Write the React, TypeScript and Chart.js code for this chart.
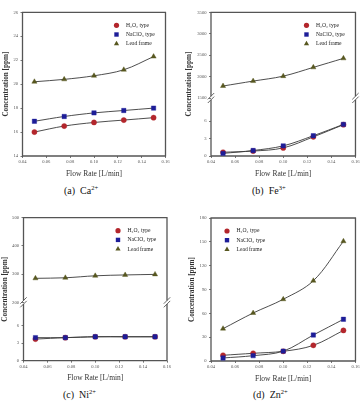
import React, { useEffect, useRef } from 'react';
import { Chart, registerables } from 'chart.js';

Chart.register(...registerables);

const FONT = "'Liberation Serif', 'Times New Roman', serif";

// ---- data ----
const flowRates = [0.05, 0.075, 0.1, 0.125, 0.15];
const seriesLabels = ['H₂O₂ type', 'NaClO₃ type', 'Lead frame'];
const xTickValues = [0.04, 0.06, 0.08, 0.1, 0.12, 0.14, 0.16];

const caH2O2 = [16.0, 16.5, 16.8, 17.0, 17.2];
const caNaClO3 = [16.9, 17.3, 17.6, 17.8, 18.0];
const caLead = [20.2, 20.4, 20.7, 21.2, 22.3];
const caTicks = [14, 16, 18, 20, 22, 24, 26];

const feH2O2 = [0.65, 0.85, 1.4, 3.3, 5.4];
const feNaClO3 = [0.45, 0.95, 1.75, 3.5, 5.45];
const feLead = [1780, 1895, 2010, 2215, 2425];
const feHighTicks = [1500, 2000, 2500, 3000, 3500];
const feLowTicks = [0, 3, 6];

const niH2O2 = [3.7, 3.95, 4.1, 4.1, 4.1];
const niNaClO3 = [3.95, 3.95, 4.1, 4.1, 4.1];
const niLead = [285, 287, 294, 297, 299];
const niHighTicks = [200, 300, 400, 500];
const niLowTicks = [0, 3, 6];

const znH2O2 = [7.2, 9.7, 12.2, 19.7, 38.5];
const znNaClO3 = [3.8, 6.7, 12.4, 32.7, 52.5];
const znLead = [40.7, 60.4, 77.7, 101, 150.7];
const znTicks = [0, 30, 60, 90, 120, 150, 180];

const lowAxisMax = 10;

// ---- styles ----
const markerStyles = [
  { shape: 'circle', color: '#b3262c', r: 2.6 },
  { shape: 'rect', color: '#1d1d98', r: 3.1 },
  { shape: 'triangle', color: '#57571f', r: 3.0 },
];

function drawMarker(ctx: CanvasRenderingContext2D, st: any, x: number, y: number) {
  ctx.save();
  ctx.fillStyle = st.color;
  ctx.beginPath();
  if (st.shape === 'circle') {
    ctx.arc(x, y, st.r, 0, Math.PI * 2);
  } else if (st.shape === 'rect') {
    const s = st.r * Math.SQRT1_2;
    ctx.rect(x - s, y - s, 2 * s, 2 * s);
  } else {
    let rad = 0;
    const step = (2 * Math.PI) / 3;
    ctx.moveTo(x + Math.sin(rad) * st.r, y - Math.cos(rad) * st.r);
    rad += step;
    ctx.lineTo(x + Math.sin(rad) * st.r, y - Math.cos(rad) * st.r);
    rad += step;
    ctx.lineTo(x + Math.sin(rad) * st.r, y - Math.cos(rad) * st.r);
    ctx.closePath();
  }
  ctx.fill();
  ctx.restore();
}

type Broken = { high: number[]; low: number[]; highW: number; lowW: number };
type PanelProps = {
  x: number; y: number; w: number; h: number;
  area: { l: number; t: number; r: number; b: number };
  yTitleX: number;
  legendSide: 'left' | 'right';
  series: number[][];
  ticks?: number[];
  broken?: Broken;
};

function Panel(p: PanelProps) {
  const ref = useRef<HTMLCanvasElement>(null);
  useEffect(() => {
    const canvas = ref.current!;
    const { area, w, h } = p;

    const datasets = p.series.map((vals, i) => ({
      label: seriesLabels[i],
      data: vals.map((v, j) => ({ x: flowRates[j], y: v })),
      yAxisID: p.broken ? (i === 2 ? 'yHigh' : 'yLow') : 'y',
      borderColor: '#3a3a3a',
      borderWidth: 0.9,
      tension: 0.35,
      fill: false,
      pointStyle: markerStyles[i].shape,
      pointRadius: markerStyles[i].r,
      pointBackgroundColor: markerStyles[i].color,
      pointBorderColor: markerStyles[i].color,
      pointBorderWidth: 0.4,
      order: 3 - i,
    }));

    const yBase = (ticks: number[]) => ({
      type: 'linear',
      position: 'left',
      min: ticks[0],
      max: ticks[ticks.length - 1],
      afterBuildTicks: (s: any) => { s.ticks = ticks.map((v) => ({ value: v })); },
      afterFit: (s: any) => { s.width = area.l; },
      ticks: {
        font: { family: FONT, size: 4.6 },
        color: '#555',
        padding: 2.5,
        callback: (v: any) => String(v),
      },
      grid: { display: true, drawOnChartArea: false, drawTicks: true, tickLength: 2, tickColor: '#555', tickWidth: 0.8 },
      border: { display: false },
    });

    const titleCenterBelow = 17.6;
    const scales: any = {
      x: {
        type: 'linear',
        min: xTickValues[0],
        max: xTickValues[xTickValues.length - 1],
        afterBuildTicks: (s: any) => { s.ticks = xTickValues.map((v) => ({ value: v })); },
        afterFit: (s: any) => { s.height = h - area.b; },
        ticks: {
          font: { family: FONT, size: 4.6 },
          color: '#555',
          padding: 1.5,
          maxRotation: 0,
          autoSkip: false,
          callback: (v: any) => Number(v).toFixed(2),
        },
        grid: { display: true, drawOnChartArea: false, drawTicks: true, tickLength: 2, tickColor: '#555', tickWidth: 0.8 },
        border: { display: false },
        title: {
          display: true,
          text: 'Flow Rate [L/min]',
          font: { family: FONT, size: 7.5 },
          color: '#333',
          padding: { top: 0, bottom: Math.max(0, h - (area.b + titleCenterBelow) - 4.5) },
        },
      },
    };
    if (p.broken) {
      const b = p.broken;
      scales.yLow = { ...yBase(b.low), min: 0, max: lowAxisMax, stack: 'y', stackWeight: b.lowW };
      scales.yHigh = { ...yBase(b.high), stack: 'y', stackWeight: b.highW };
    } else {
      scales.y = yBase(p.ticks!);
    }

    const framePlugin = {
      id: 'frame',
      beforeDatasetsDraw(chart: any) {
        const { ctx, chartArea: a } = chart;
        ctx.save();
        ctx.strokeStyle = '#555';
        ctx.lineWidth = 1.3;
        ctx.beginPath();
        ctx.moveTo(a.left - 0.6, a.top); ctx.lineTo(a.right + 0.6, a.top);
        ctx.moveTo(a.left - 0.6, a.bottom); ctx.lineTo(a.right + 0.6, a.bottom);
        if (p.broken) {
          const bY = chart.scales.yHigh.bottom;
          const g = 1.8;
          for (const xx of [a.left, a.right]) {
            ctx.moveTo(xx, a.top); ctx.lineTo(xx, bY - g);
            ctx.moveTo(xx, bY + g); ctx.lineTo(xx, a.bottom);
          }
          ctx.stroke();
          ctx.beginPath();
          ctx.lineWidth = 0.9;
          for (const xx of [a.left, a.right]) {
            for (const d of [-g, g]) {
              ctx.moveTo(xx - 3.2, bY + d + 3.2);
              ctx.lineTo(xx + 3.2, bY + d - 3.2);
            }
          }
          ctx.stroke();
        } else {
          ctx.moveTo(a.left, a.top); ctx.lineTo(a.left, a.bottom);
          ctx.moveTo(a.right, a.top); ctx.lineTo(a.right, a.bottom);
          ctx.stroke();
        }
        ctx.restore();
      },
      afterDraw(chart: any) {
        const { ctx, chartArea: a } = chart;
        // y title
        ctx.save();
        ctx.translate(p.yTitleX, (a.top + a.bottom) / 2);
        ctx.rotate(-Math.PI / 2);
        ctx.font = `bold 7.2px ${FONT}`;
        ctx.fillStyle = '#333';
        ctx.textAlign = 'center';
        ctx.textBaseline = 'middle';
        ctx.fillText('Concentration [ppm]', 0, 0);
        ctx.restore();
        // legend
        const mx = p.legendSide === 'right' ? a.right - 49 : a.left + 16;
        p.series.forEach((_, i) => {
          const yy = a.top + 13 + i * 9.2;
          drawMarker(ctx, markerStyles[i], mx, yy);
          ctx.save();
          ctx.font = `5.6px ${FONT}`;
          ctx.fillStyle = '#222';
          ctx.textAlign = 'left';
          ctx.textBaseline = 'middle';
          ctx.fillText(seriesLabels[i], mx + 9.5, yy);
          ctx.restore();
        });
      },
    };

    const chart = new Chart(canvas, {
      type: 'line',
      data: { datasets },
      options: {
        responsive: false,
        animation: false,
        devicePixelRatio: 1,
        events: [],
        layout: { padding: { left: 0, top: area.t, right: w - area.r, bottom: 0 } },
        plugins: { legend: { display: false }, tooltip: { enabled: false }, title: { display: false } },
        scales,
      } as any,
      plugins: [framePlugin],
    } as any);
    return () => chart.destroy();
  }, []);
  return (
    <canvas
      ref={ref}
      width={p.w}
      height={p.h}
      style={{ position: 'absolute', left: p.x, top: p.y, width: p.w, height: p.h }}
    />
  );
}

function Caption({ x, y, letter, ion, charge }: { x: number; y: number; letter: string; ion: string; charge: string }) {
  return (
    <div style={{ position: 'absolute', left: x, top: y, font: `10px ${FONT}`, lineHeight: '10px', color: '#111', whiteSpace: 'pre' }}>
      {`(${letter})  ${ion}`}
      <span style={{ fontSize: '6.5px', position: 'relative', top: '-4.5px' }}>{charge}</span>
    </div>
  );
}

export default function App() {
  return (
    <div style={{ position: 'fixed', left: 0, top: 0, width: 361, height: 402, background: '#fff', overflow: 'hidden' }}>
      <Panel x={0} y={0} w={180} h={184} area={{ l: 22.5, t: 12.3, r: 165.5, b: 156 }} yTitleX={6.5}
        legendSide="right" series={[caH2O2, caNaClO3, caLead]} ticks={caTicks} />
      <Panel x={180} y={0} w={181} h={184} area={{ l: 31, t: 12.3, r: 175.5, b: 156 }} yTitleX={9.5}
        legendSide="right" series={[feH2O2, feNaClO3, feLead]}
        broken={{ high: feHighTicks, low: feLowTicks, highW: 85.7, lowW: 58 }} />
      <Panel x={0} y={200} w={180} h={184} area={{ l: 23.5, t: 17.7, r: 167, b: 160.7 }} yTitleX={5.5}
        legendSide="right" series={[niH2O2, niNaClO3, niLead]}
        broken={{ high: niHighTicks, low: niLowTicks, highW: 84.6, lowW: 58.4 }} />
      <Panel x={180} y={200} w={181} h={184} area={{ l: 31, t: 18, r: 175.8, b: 161 }} yTitleX={12}
        legendSide="left" series={[znH2O2, znNaClO3, znLead]} ticks={znTicks} />
      <Caption x={64} y={186} letter="a" ion="Ca" charge="2+" />
      <Caption x={252} y={186} letter="b" ion="Fe" charge="3+" />
      <Caption x={63} y={390} letter="c" ion="Ni" charge="2+" />
      <Caption x={253} y={390} letter="d" ion="Zn" charge="2+" />
    </div>
  );
}
